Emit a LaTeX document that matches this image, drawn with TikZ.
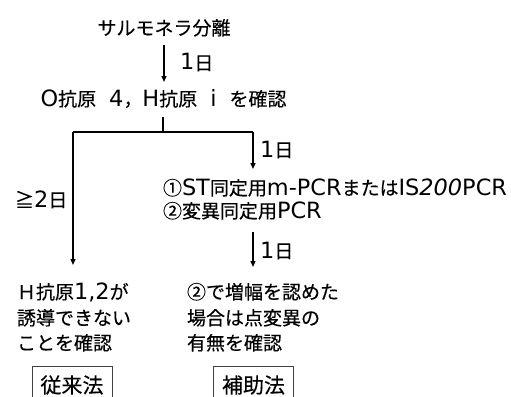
\documentclass[tikz,border=0pt]{standalone}
\usepackage{fontspec}
\setmainfont{Noto Sans CJK JP}[FakeBold=0.3]
\newfontfamily\lt{DejaVu Sans}[Scale=1.18]
\usetikzlibrary{arrows.meta}
\tikzset{
  txt/.style={inner sep=0pt, outer sep=0pt, text height=14pt, text depth=0pt, font=\fontsize{19}{23}\selectfont},
  conn/.style={line width=1.3pt},
  arr/.style={line width=1.3pt, -{Triangle[length=6pt,width=5pt]}},
  method/.style={draw=black!75, line width=0.8pt, minimum width=80pt, minimum height=38pt, inner sep=0pt, font=\fontsize{21}{25}\selectfont},
}
\begin{document}
\begin{tikzpicture}[x=1pt,y=-1pt]
\clip (0,0) rectangle (511,396);
% text nodes
\node[txt] (title) at (164,28) {サルモネラ分離};
\node[txt, anchor=west] (d1) at (180,63) {{\lt 1}日};
\node[txt] (o) at (163.5,99) {{\lt O}抗原\hspace{13pt}{\lt 4}，{\lt H}抗原\hspace{13pt}{\lt i}\hspace{13pt}を確認};
\coordinate (bc) at (163,132);
\coordinate (bl) at (73,132);
\coordinate (br) at (253,132);
\node[txt, anchor=west] (d2) at (260,150) {{\lt 1}日};
\node[txt, anchor=west] (d4) at (15,200) {≧{\lt 2}日};
\node[txt, anchor=west] (m1) at (163,188) {①{\lt ST}同定用{\lt m-PCR}または{\lt IS\textit{200}PCR}};
\node[txt, anchor=west] (m2) at (163,211) {②変異同定用{\lt PCR}};
\node[txt, anchor=west] (d3) at (260,251) {{\lt 1}日};
\node[txt, anchor=west] (l1) at (17,292) {Ｈ抗原{\lt 1,2}が};
\node[txt, anchor=west] (l2) at (17,318) {誘導できない};
\node[txt, anchor=west] (l3) at (17,343) {ことを確認};
\node[txt, anchor=west] (r1) at (187,292) {②で増幅を認めた};
\node[txt, anchor=west] (r2) at (187,318) {場合は点変異の};
\node[txt, anchor=west] (r3) at (187,343) {有無を確認};
\node[method] (box1) at (72,385) {従来法};
\node[method] (box2) at (253.5,385) {補助法};
% connectors
\draw[arr, shorten <=10pt, shorten >=10pt] (title.south) -- (o.north -| title.south);
\draw[conn, shorten <=11pt] (o.south -| bc) -- (bc);
\draw[conn] (bl) -- (br);
\draw[arr, shorten >=20pt] (bl) -- (bl |- l1.north);
\draw[arr, shorten >=12pt] (br) -- (br |- m1.north);
\draw[arr, shorten <=14pt, shorten >=18pt] (br |- m2.south) -- (br |- r1.north);
\end{tikzpicture}
\end{document}
